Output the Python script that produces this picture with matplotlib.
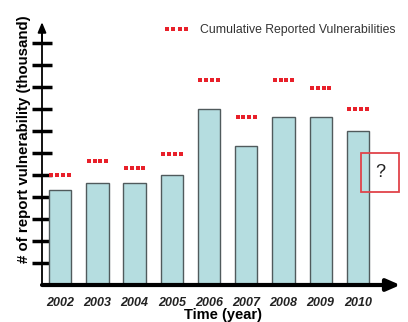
import matplotlib
matplotlib.use("Agg")
import matplotlib.pyplot as plt
from matplotlib.patches import Rectangle
import numpy as np

years = ["2002", "2003", "2004", "2005", "2006", "2007", "2008", "2009", "2010"]
reported = [4.32, 4.65, 4.65, 5.0, 8.0, 6.33, 7.65, 7.65, 6.98]
cumulative = [5.0, 5.64, 5.30, 5.95, 9.30, 7.62, 9.30, 8.97, 8.0]
yticks = list(range(1, 12))

plt.rcParams['font.family'] = ['Liberation Sans', 'DejaVu Sans']

fig = plt.figure(figsize=(4.08, 3.22), dpi=100)
ax = fig.add_axes([42/408, 37/322, (404-42)/408, (285-18)/322])
x = np.arange(len(years))
ax.set_xlim(-0.49, 9.24)
ax.set_ylim(0, 12.14)

ax.bar(x, reported, width=0.6, color="#b5dde0", edgecolor="#505a5c", linewidth=1.0, zorder=2)

# dotted cumulative markers (4 dots per year)
offs = np.array([-0.235, -0.078, 0.078, 0.235])
dx = np.concatenate([xi + offs for xi in x])
dy = np.repeat(cumulative, 4)
ax.plot(dx, dy, 's', color="#e8202a", ms=2.2, mew=0, linestyle='none', zorder=3,
        label="Cumulative Reported Vulnerabilities")

leg = ax.legend(loc="upper right", bbox_to_anchor=(1.0, 1.01), frameon=False, numpoints=4,
                handlelength=2.2, handletextpad=0.8, fontsize=8.8, borderaxespad=0.3,
                markerscale=1.0)
for t in leg.get_texts():
    t.set_color("#333333")

# axes styling
for s in ["top", "right", "bottom"]:
    ax.spines[s].set_visible(False)
ax.spines["left"].set_linewidth(1.3)
ax.spines["left"].set_bounds(0, 11.7)
ax.set_yticks(yticks)
ax.set_yticklabels([])
ax.tick_params(axis='y', direction='inout', length=14, width=2.5, color="black")

ax.set_xticks(x)
ax.set_xticklabels(years, fontsize=9, fontweight='bold', fontstyle='italic', color="#222222")
ax.tick_params(axis='x', length=0, pad=9)

# axis arrows
ax.annotate("", xy=(9.14, 0), xytext=(-0.49, 0), xycoords='data',
            arrowprops=dict(arrowstyle="-|>,head_length=0.8,head_width=0.35", lw=3, color="black",
                            shrinkA=0, shrinkB=0), annotation_clip=False, zorder=4)
ax.annotate("", xy=(-0.49, 11.95), xytext=(-0.49, 11.0), xycoords='data',
            arrowprops=dict(arrowstyle="-|>,head_length=0.6,head_width=0.25", lw=1.3, color="black",
                            shrinkA=0, shrinkB=0), annotation_clip=False, zorder=4)

ax.set_xlabel("Time (year)", fontsize=10.5, fontweight='bold', labelpad=-1)
ax.set_ylabel("# of report vulnerability (thousand)", fontsize=10.8, fontweight='bold')
ax.yaxis.set_label_coords(-11/362, 0.545)

# question box
ax.add_patch(Rectangle((8.08, 4.21), 1.02, 1.77, fill=False, edgecolor="#e0434a", lw=1.3, zorder=5,
                       clip_on=False))
ax.text(8.6, 5.1, "?", fontsize=13, ha='center', va='center', color="#222222", zorder=5)

fig.savefig("out.png", dpi=100)
